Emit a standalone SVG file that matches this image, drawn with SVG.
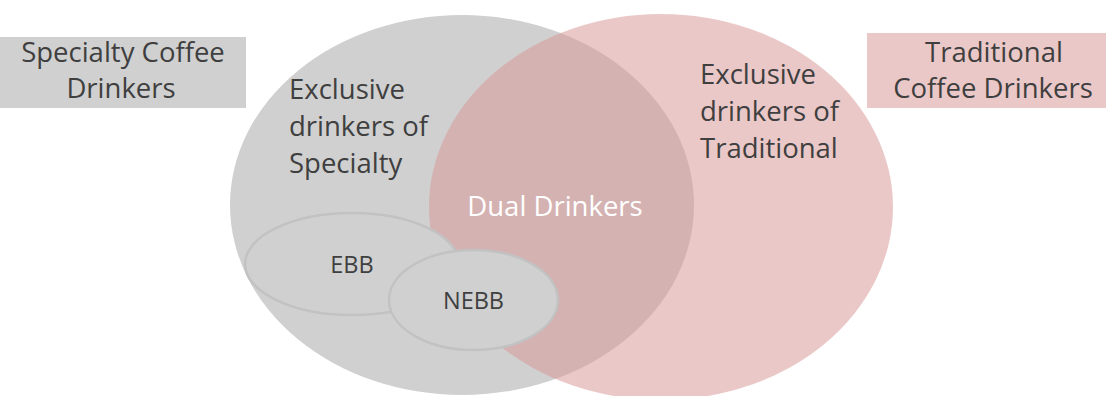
<svg xmlns="http://www.w3.org/2000/svg" width="1106" height="396" viewBox="0 0 1106 396">
<style>
.t{font-family:"Open Sans","Noto Sans",sans-serif;fill:#3F3F3F;font-size:27.5px}
.w{fill:#ffffff}
.s{font-size:23.5px}
.mid{text-anchor:middle}
.gray{fill:#D0D0D0}
.pink{fill:#D99898;fill-opacity:0.53}
.sub{fill:#D0D0D0;stroke:#C2C2C2;stroke-width:2.5}
</style>
<rect width="1106" height="396" fill="#ffffff"/>
<g id="specialty-set">
<ellipse class="gray" cx="462" cy="205" rx="232" ry="190"/>
</g>
<g id="traditional-set">
<ellipse class="pink" cx="661" cy="207" rx="232" ry="193"/>
</g>
<g id="ebb">
<ellipse class="sub" cx="352" cy="264" rx="107" ry="51"/>
<text class="t s mid" x="352" y="273">EBB</text>
</g>
<g id="nebb">
<ellipse class="sub" cx="473.5" cy="300" rx="84.5" ry="50"/>
<text class="t s mid" x="473.5" y="309">NEBB</text>
</g>
<g id="specialty-label">
<rect x="0" y="37" width="246" height="71" fill="#D0D0D0"/>
<text class="t mid" x="123" y="62">Specialty Coffee</text>
<text class="t mid" x="121" y="98">Drinkers</text>
</g>
<g id="traditional-label">
<rect x="867" y="33" width="239" height="75" fill="#EBC8C8"/>
<text class="t mid" x="994" y="62">Traditional</text>
<text class="t mid" x="993" y="98">Coffee Drinkers</text>
</g>
<g id="exclusive-specialty">
<text class="t" x="289" y="99">Exclusive</text>
<text class="t" x="289" y="136">drinkers of</text>
<text class="t" x="289" y="173">Specialty</text>
</g>
<g id="exclusive-traditional">
<text class="t" x="700" y="84">Exclusive</text>
<text class="t" x="700" y="121">drinkers of</text>
<text class="t" x="700" y="158">Traditional</text>
</g>
<g id="dual">
<text class="t w mid" x="555" y="216">Dual Drinkers</text>
</g>
<g id="connectors"/>
</svg>
